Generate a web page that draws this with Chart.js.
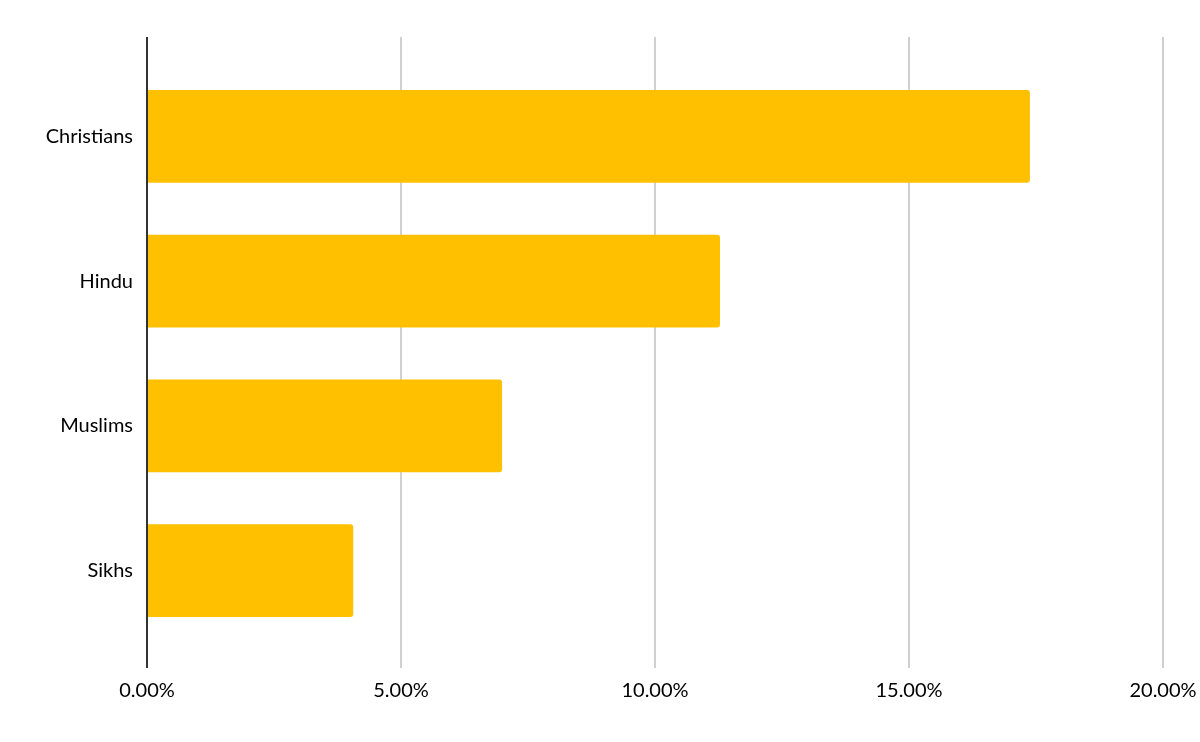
<!DOCTYPE html>
<html>
<head>
<meta charset="utf-8">
<script src="https://cdn.jsdelivr.net/npm/chart.js@4/dist/chart.umd.min.js"></script>
<style>
html,body{margin:0;padding:0;background:#fff;}
#wrap{width:1200px;height:742px;position:relative;}
</style>
</head>
<body>
<div id="wrap"><canvas id="c" width="1200" height="742"></canvas></div>
<script>
const categories = ["Christians", "Hindu", "Muslims", "Sikhs"];
const shares = [0.1738, 0.1128, 0.0699, 0.0406];
const xTicks = [0, 0.05, 0.10, 0.15, 0.20];

const FONT = 'Lato, "Open Sans", sans-serif';
const gridColor = ctx => (ctx.tick && ctx.tick.value === 0) ? '#333333' : '#d0d0d0';
const noSidePad = s => { s.paddingLeft = 0; s.paddingRight = 0; };

new Chart(document.getElementById('c'), {
  type: 'bar',
  data: {
    labels: categories,
    datasets: [{
      data: shares,
      backgroundColor: '#FFC000',
      borderWidth: 0,
      borderRadius: 3,
      barPercentage: 1,
      categoryPercentage: 0.642
    }]
  },
  options: {
    indexAxis: 'y',
    responsive: false,
    animation: false,
    layout: { padding: { top: 37, right: 37, bottom: 0, left: 0 } },
    plugins: { legend: { display: false }, tooltip: { enabled: false } },
    scales: {
      x: {
        position: 'bottom',
        min: 0, max: 0.2,
        afterBuildTicks: s => { s.ticks = xTicks.map(v => ({ value: v })); },
        afterFit: s => { s.height = 99; noSidePad(s); },
        grid: { color: gridColor, lineWidth: 2, tickLength: 25 },
        border: { display: false },
        ticks: {
          padding: 11,
          color: '#000',
          font: { family: FONT, size: 20 },
          callback: v => (v * 100).toFixed(2) + '%'
        }
      },
      x2: {
        position: 'top',
        axis: 'x',
        min: 0, max: 0.2,
        afterBuildTicks: s => { s.ticks = xTicks.map(v => ({ value: v })); },
        afterFit: s => { noSidePad(s); },
        grid: { color: gridColor, lineWidth: 2, tickLength: 27, drawOnChartArea: false },
        border: { display: false },
        ticks: { display: false }
      },
      y: {
        afterFit: s => { s.width = 147; },
        grid: { display: false, drawTicks: false },
        border: { display: false },
        ticks: {
          padding: 14,
          color: '#000',
          font: { family: FONT, size: 20 }
        }
      }
    }
  }
});
</script>
</body>
</html>
